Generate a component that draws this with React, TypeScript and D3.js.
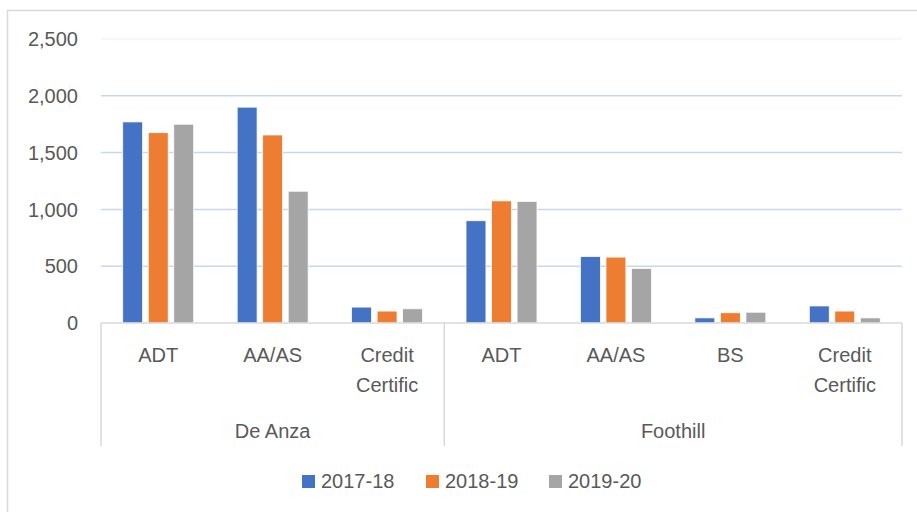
import { useMemo } from "react";
import * as d3 from "d3";

const WIDTH = 917;
const HEIGHT = 512;
const PLOT = { left: 101, right: 902, top: 39, bottom: 323 };
const AXIS_BOTTOM = 446;

const groups = ["De Anza", "Foothill"];
const deAnzaCategories = ["ADT", "AA/AS", "Credit Certific"];
const foothillCategories = ["ADT", "AA/AS", "BS", "Credit Certific"];
const seriesNames = ["2017-18", "2018-19", "2019-20"];
const seriesColors = ["#4472c4", "#ed7d31", "#a5a5a5"];
const values2017 = [1770, 1900, 140, 900, 585, 45, 150];
const values2018 = [1675, 1655, 105, 1075, 580, 90, 105];
const values2019 = [1750, 1160, 125, 1070, 480, 95, 45];
const yTicks = [0, 500, 1000, 1500, 2000, 2500];

const FONT = "'Liberation Sans', Arial, sans-serif";
const TEXT_COLOR = "#595959";

export default function App() {
  const cats = useMemo(
    () => [
      ...deAnzaCategories.map((c, i) => ({ key: `0-${i}`, label: c, group: 0 })),
      ...foothillCategories.map((c, i) => ({ key: `1-${i}`, label: c, group: 1 })),
    ],
    []
  );
  const series = [values2017, values2018, values2019];

  const xScale = d3
    .scaleBand<string>()
    .domain(cats.map((c) => c.key))
    .range([PLOT.left, PLOT.right])
    .padding(0);
  const step = xScale.bandwidth();
  const clusterW = step * 0.62;
  const x1 = d3
    .scaleBand<string>()
    .domain(seriesNames)
    .range([(step - clusterW) / 2, (step + clusterW) / 2])
    .paddingInner(0.22);

  const yScale = d3.scaleLinear().domain([0, 2500]).range([PLOT.bottom, PLOT.top]);

  const groupEdges = [
    PLOT.left,
    xScale(`1-0`) ?? 0,
    PLOT.right,
  ];

  const legendX = [302, 426, 549];

  return (
    <svg
      width={WIDTH}
      height={HEIGHT}
      style={{ position: "absolute", left: 0, top: 0, background: "#fff" }}
      fontFamily={FONT}
    >
      <rect x={7.5} y={10.5} width={930} height={520} fill="#fff" stroke="#d9d9d9" strokeWidth={1.5} />
      {yTicks.map((t) => (
        <g key={t}>
          {t > 0 && (
            <line
              x1={PLOT.left}
              x2={PLOT.right}
              y1={yScale(t)}
              y2={yScale(t)}
              stroke={t === 2500 ? "#f1f4fa" : "#c9d6ee"}
              strokeWidth={1.5}
            />
          )}
          <text x={78} y={yScale(t)} dy="0.36em" textAnchor="end" fontSize={20} fill={TEXT_COLOR}>
            {d3.format(",")(t)}
          </text>
        </g>
      ))}
      {series.map((vals, si) =>
        cats.map((c, ci) => (
          <rect
            key={`${si}-${c.key}`}
            x={(xScale(c.key) ?? 0) + (x1(seriesNames[si]) ?? 0)}
            width={x1.bandwidth()}
            y={yScale(vals[ci])}
            height={PLOT.bottom - yScale(vals[ci])}
            fill={seriesColors[si]}
            stroke="#fff"
            strokeWidth={0.75}
          />
        ))
      )}
      <line x1={PLOT.left} x2={PLOT.right} y1={PLOT.bottom} y2={PLOT.bottom} stroke="#d9d9d9" strokeWidth={1.5} />
      {groupEdges.map((x, i) => (
        <line key={i} x1={x} x2={x} y1={PLOT.bottom} y2={AXIS_BOTTOM} stroke="#d9d9d9" strokeWidth={1.5} />
      ))}
      {cats.map((c) => {
        const cx = (xScale(c.key) ?? 0) + step / 2;
        const lines = c.label === "Credit Certific" ? ["Credit", "Certific"] : [c.label];
        return lines.map((l, li) => (
          <text key={`${c.key}-${li}`} x={cx} y={362 + li * 29.5} textAnchor="middle" fontSize={20} fill={TEXT_COLOR}>
            {l}
          </text>
        ));
      })}
      {groups.map((g, gi) => (
        <text
          key={g}
          x={(groupEdges[gi] + groupEdges[gi + 1]) / 2}
          y={438}
          textAnchor="middle"
          fontSize={20}
          fill={TEXT_COLOR}
        >
          {g}
        </text>
      ))}
      {seriesNames.map((s, i) => (
        <g key={s}>
          <rect x={legendX[i]} y={475} width={13} height={13} fill={seriesColors[i]} />
          <text x={legendX[i] + 19} y={488} fontSize={20} fill={TEXT_COLOR}>
            {s}
          </text>
        </g>
      ))}
    </svg>
  );
}
